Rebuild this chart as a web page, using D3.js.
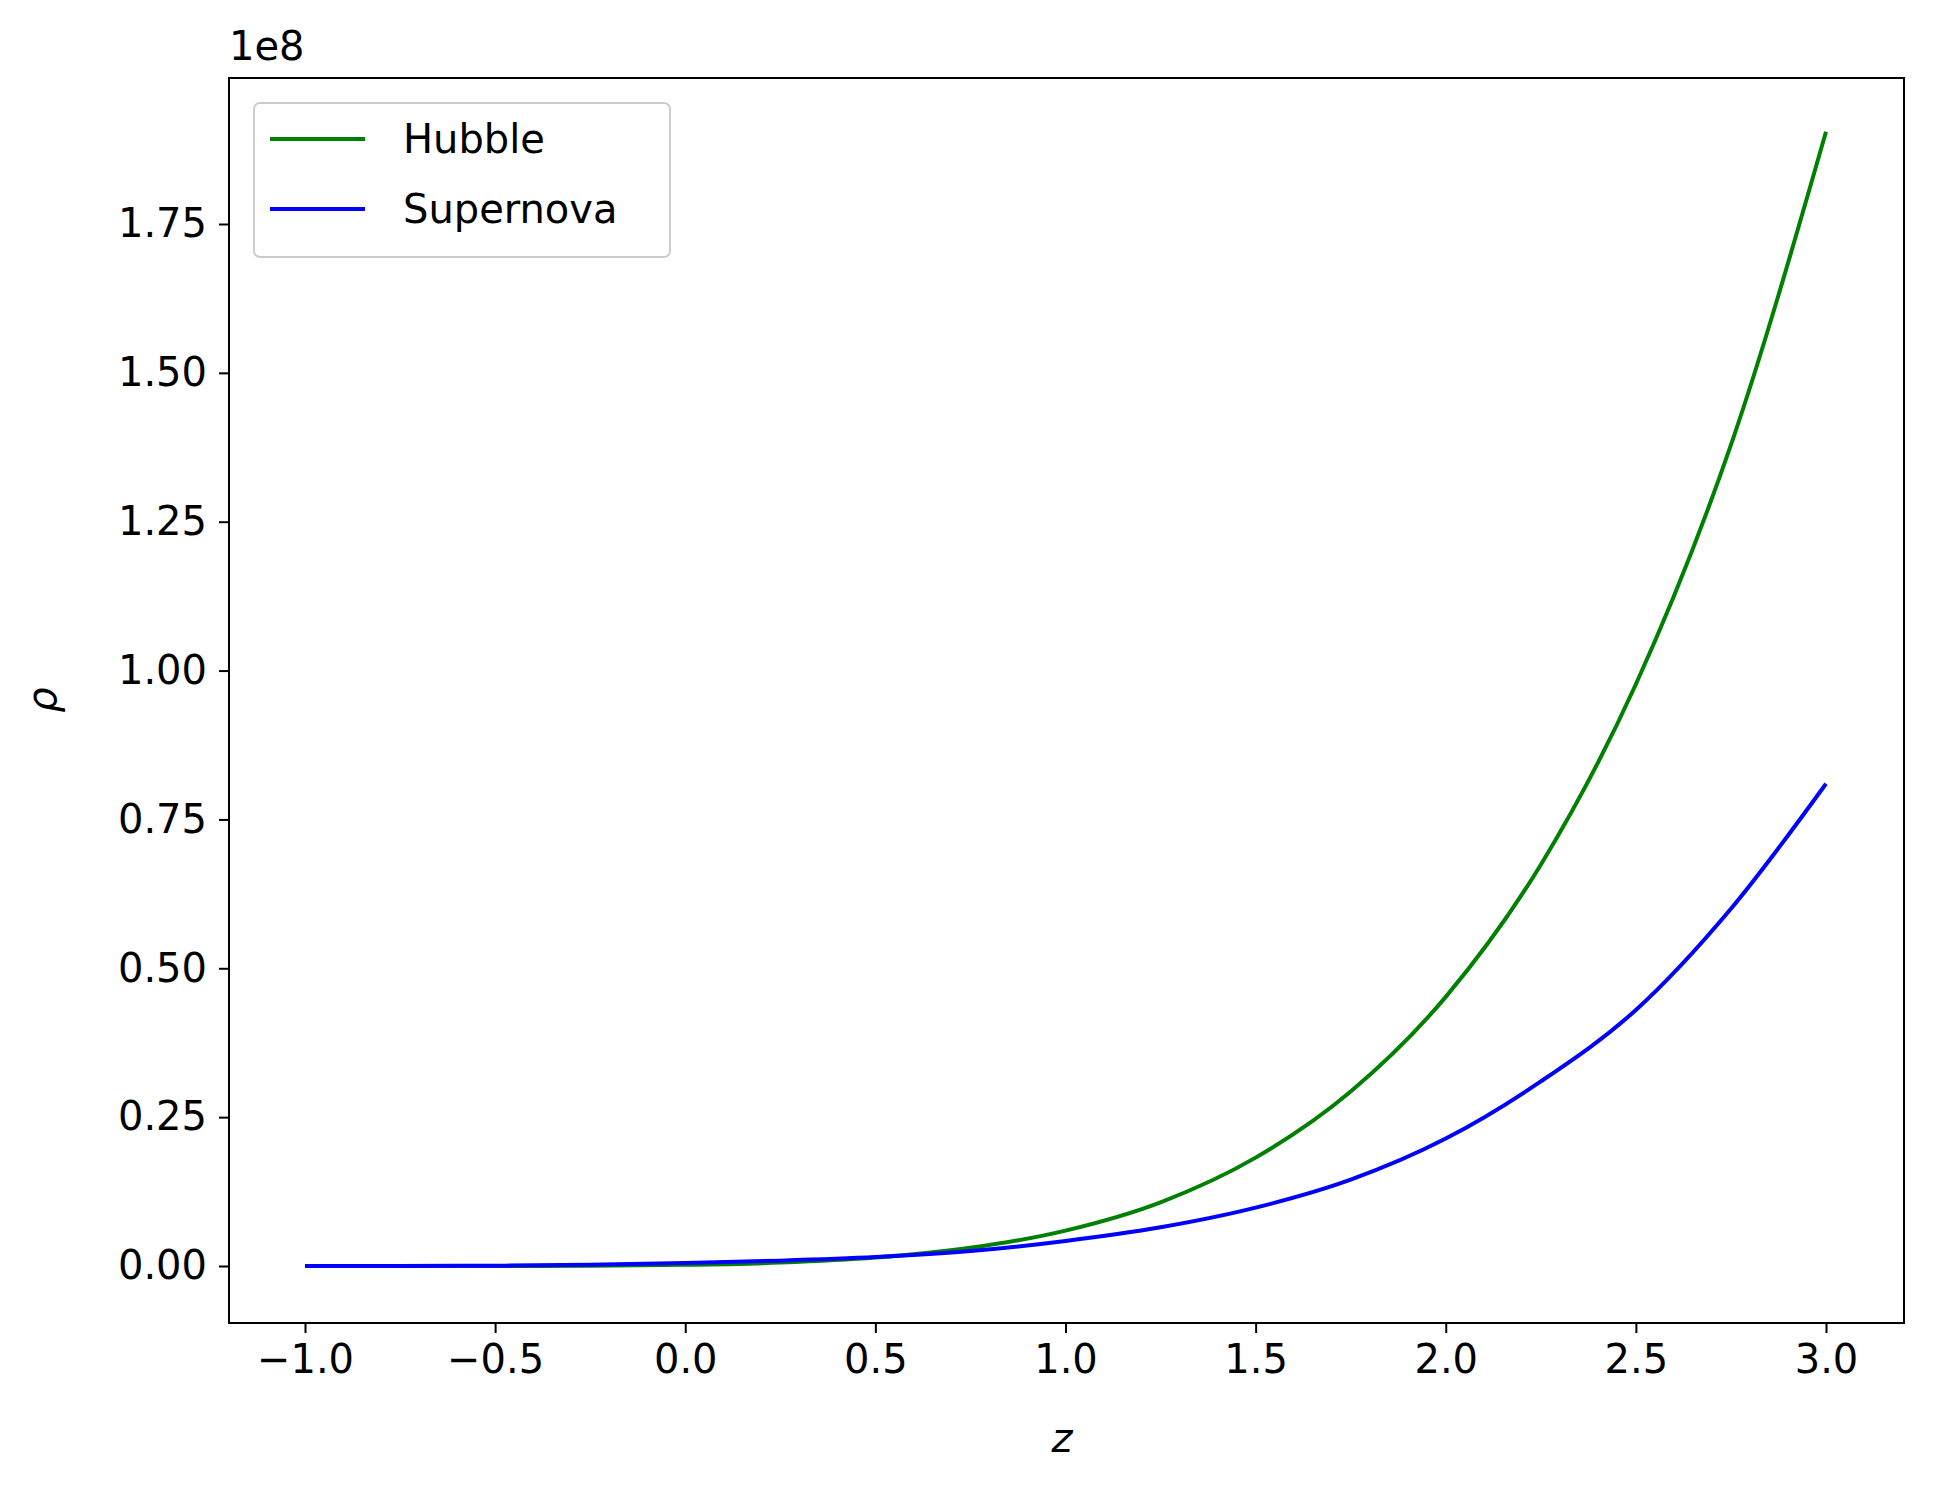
<!DOCTYPE html><html><head><meta charset="utf-8"><script src="https://cdn.jsdelivr.net/npm/d3@7"></script>
<style>body{margin:0;background:#fff}text{font-family:"DejaVu Sans",sans-serif}</style></head><body>
<svg id="c" width="1933" height="1495"></svg>
<script>
const zVals=[-1,-0.75,-0.5,-0.25,0,0.25,0.5,0.75,1,1.25,1.5,1.75,2,2.25,2.5,2.75,3];
const hubble=[0,0,0.00006,0.0004,0.0019,0.0057,0.0141,0.0305,0.0595,0.107,0.182,0.293,0.452,0.674,0.977,1.379,1.905];
const supernova=[0,0.0001,0.0005,0.002,0.005,0.009,0.015,0.025,0.042,0.065,0.098,0.145,0.214,0.31,0.43,0.6,0.81];
const xTicks=[-1,-0.5,0,0.5,1,1.5,2,2.5,3];
const yTicks=[0,0.25,0.5,0.75,1,1.25,1.5,1.75];
const series=[{name:"Hubble",color:"#008000",v:hubble},{name:"Supernova",color:"#0000ff",v:supernova}];
const svg=d3.select("#c");
const L=229,R=1904,T=78,B=1323;
const x=d3.scaleLinear().domain([-1,3]).range([305,1826]);
const y=d3.scaleLinear().domain([0,1.75]).range([1266,224]);
const fs=40;
const xa=svg.append("g").attr("transform",`translate(0,${B})`).call(d3.axisBottom(x).tickValues(xTicks).tickSize(10).tickPadding(12).tickFormat(d=>d3.format(".1f")(d).replace("-","−")));
const ya=svg.append("g").attr("transform",`translate(${L},0)`).call(d3.axisLeft(y).tickValues(yTicks).tickSize(10).tickPadding(12).tickFormat(d3.format(".2f")));
[xa,ya].forEach(a=>{a.select(".domain").remove();a.selectAll("line").attr("stroke","#000").attr("stroke-width",2);a.selectAll("text").attr("font-size",fs).attr("fill","#000").attr("font-family","DejaVu Sans");});
const line=d3.line().curve(d3.curveMonotoneX);
series.forEach(s=>{svg.append("path").attr("d",line(zVals.map((z,i)=>[x(z),y(s.v[i])]))).attr("fill","none").attr("stroke",s.color).attr("stroke-width",4);});
svg.append("rect").attr("x",L).attr("y",T).attr("width",R-L).attr("height",B-T).attr("fill","none").attr("stroke","#000").attr("stroke-width",2);
svg.append("text").attr("x",L).attr("y",60).attr("font-size",fs).text("1e8");
svg.append("text").attr("x",1062).attr("y",1452).attr("font-size",fs).attr("font-style","italic").attr("text-anchor","middle").text("z");
svg.append("text").attr("transform","translate(56,700) rotate(-90)").attr("font-size",fs).attr("font-style","italic").attr("text-anchor","middle").text("ρ");
const lg=svg.append("g");
lg.append("rect").attr("x",254).attr("y",103).attr("width",416).attr("height",154).attr("rx",6).attr("fill","#fff").attr("stroke","#ccc").attr("stroke-width",2);
series.forEach((s,i)=>{const yy=139+i*70;
lg.append("line").attr("x1",270).attr("x2",365).attr("y1",yy).attr("y2",yy).attr("stroke",s.color).attr("stroke-width",4);
lg.append("text").attr("x",403).attr("y",yy+14).attr("font-size",fs).text(s.name);});
</script></body></html>
